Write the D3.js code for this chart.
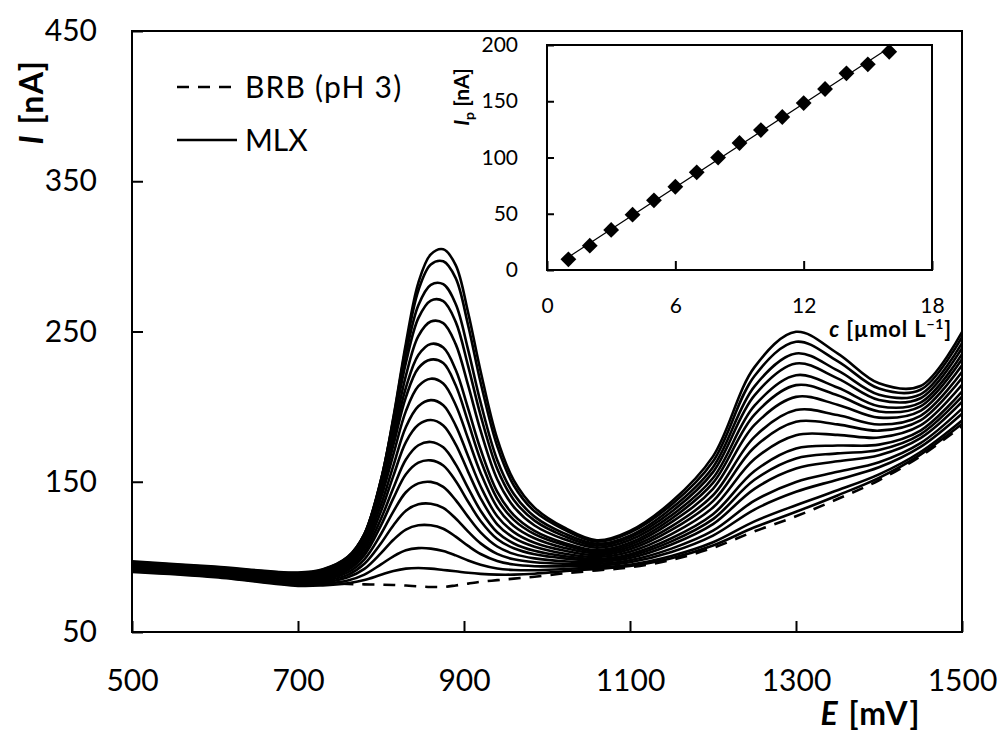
<!DOCTYPE html>
<html><head><meta charset="utf-8">
<script src="https://cdn.jsdelivr.net/npm/d3@7"></script>
<style>
body{margin:0;background:#fff}
svg{display:block}
text{font-family:Lato,'Open Sans',sans-serif;fill:#000}
</style>
</head><body>
<svg id="chart" width="1001" height="731"></svg>
<script>
// ---- data ----
const potentials = [500, 600, 700, 730, 760, 780, 800, 815, 830, 845, 860, 875, 890, 905, 920, 940, 960, 985, 1020, 1060, 1100, 1150, 1200, 1250, 1300, 1350, 1400, 1450, 1500];
const brb = [93, 89.5, 83.5, 82.5, 82, 81.7, 81.5, 81.3, 80.9, 80.4, 80, 80, 81, 82.2, 83.4, 84.5, 85.5, 86.8, 89, 91, 93, 98, 106, 117, 127, 138.5, 151, 167, 187];
const mlx01 = [90.0, 86.5, 80.7, 81.0, 82.5, 84.6, 88.1, 90.6, 92.2, 92.6, 92.2, 91.3, 90.4, 89.4, 88.7, 88.2, 88.2, 88.8, 90.4, 91.9, 93.9, 99.1, 107.6, 119.7, 130.0, 140.9, 152.6, 168.1, 188.5];
const mlx02 = [90.4, 86.9, 81.4, 82.0, 84.3, 88.2, 95.0, 100.4, 104.4, 105.8, 105.5, 103.9, 101.0, 97.6, 94.8, 92.3, 91.3, 91.1, 91.9, 93.0, 94.8, 100.6, 109.7, 123.6, 134.4, 144.3, 154.9, 169.8, 190.8];
const mlx03 = [90.9, 87.4, 82.1, 82.9, 86.4, 92.0, 102.5, 111.4, 118.2, 121.0, 121.0, 118.7, 113.5, 107.3, 101.9, 97.3, 94.9, 93.8, 93.7, 94.1, 96.4, 103.3, 114.2, 131.5, 143.3, 151.4, 159.6, 173.2, 195.3];
const mlx04 = [91.3, 87.8, 82.7, 83.9, 88.0, 95.4, 109.1, 121.1, 130.7, 135.0, 135.4, 132.6, 125.5, 116.8, 109.0, 102.0, 98.4, 96.4, 95.4, 95.3, 97.7, 105.5, 117.4, 137.4, 149.9, 156.6, 163.0, 175.7, 198.7];
const mlx05 = [91.8, 88.3, 83.4, 84.8, 89.7, 98.4, 115.2, 130.3, 143.0, 148.9, 149.9, 146.6, 137.8, 126.6, 116.3, 106.9, 102.0, 99.0, 97.1, 96.5, 99.2, 108.2, 121.8, 145.3, 158.8, 163.6, 167.7, 179.1, 203.2];
const mlx06 = [92.2, 88.7, 84.0, 85.5, 91.2, 101.2, 121.0, 139.1, 155.0, 162.7, 164.2, 160.8, 150.5, 136.7, 123.9, 111.9, 105.7, 101.7, 99.0, 97.7, 100.6, 110.3, 125.1, 151.3, 165.5, 168.9, 171.2, 181.6, 206.6];
const mlx07 = [92.6, 89.1, 84.5, 86.2, 92.3, 103.2, 125.4, 146.0, 164.8, 174.3, 176.5, 172.9, 161.6, 145.8, 130.7, 116.4, 108.9, 104.0, 100.5, 98.6, 101.8, 112.4, 128.4, 157.1, 172.1, 174.1, 174.7, 184.1, 210.0];
const mlx08 = [93.1, 89.6, 85.2, 87.0, 93.7, 105.6, 130.4, 154.1, 176.4, 187.9, 191.1, 187.5, 174.9, 156.6, 139.0, 121.7, 112.7, 106.8, 102.3, 99.9, 103.4, 115.1, 132.8, 165.1, 181.0, 181.2, 179.4, 187.5, 214.5];
const mlx09 = [93.5, 90.0, 85.7, 87.8, 94.9, 107.7, 134.7, 160.9, 186.4, 200.2, 204.3, 200.9, 187.4, 167.0, 147.0, 127.0, 116.5, 109.4, 104.2, 101.1, 105.0, 117.9, 137.1, 173.0, 189.9, 188.2, 184.0, 190.9, 219.1];
const mlx10 = [93.9, 90.4, 86.2, 88.4, 96.2, 109.8, 139.3, 168.4, 197.0, 213.6, 218.6, 215.4, 201.1, 178.6, 155.9, 133.0, 120.6, 112.4, 106.1, 102.4, 106.6, 120.3, 141.0, 179.9, 197.7, 194.4, 188.1, 193.9, 223.1];
const mlx11 = [94.4, 90.9, 86.9, 89.1, 97.2, 111.5, 143.0, 174.6, 206.3, 225.6, 231.3, 229.0, 214.2, 189.7, 164.5, 138.7, 124.6, 115.1, 108.0, 103.5, 108.0, 123.1, 145.3, 187.8, 206.5, 201.3, 192.7, 197.2, 227.5];
const mlx12 = [94.8, 91.3, 87.2, 89.6, 97.8, 112.4, 145.1, 178.5, 212.6, 234.3, 241.7, 239.3, 224.5, 198.7, 171.6, 143.4, 127.8, 117.3, 109.4, 104.5, 109.4, 125.4, 149.2, 194.7, 214.3, 207.5, 196.8, 200.2, 231.5];
const mlx13 = [95.3, 91.8, 87.9, 90.1, 98.4, 113.1, 146.9, 182.6, 220.6, 246.9, 256.6, 255.6, 241.6, 214.1, 184.0, 151.7, 133.3, 120.9, 111.9, 106.1, 111.2, 127.6, 152.5, 200.6, 220.9, 212.7, 200.3, 202.7, 234.9];
const mlx14 = [95.7, 92.2, 88.3, 90.7, 99.2, 114.5, 149.9, 187.9, 229.2, 258.9, 270.6, 270.2, 256.4, 227.0, 194.2, 158.7, 137.9, 124.1, 114.0, 107.5, 112.8, 130.0, 156.4, 207.5, 228.7, 218.8, 204.4, 205.6, 238.9];
const mlx15 = [96.1, 92.6, 88.8, 91.2, 99.7, 115.2, 151.4, 191.0, 234.9, 267.5, 281.1, 281.5, 268.3, 237.8, 202.8, 164.5, 141.8, 126.8, 115.8, 108.7, 114.1, 132.3, 159.7, 213.5, 235.4, 224.1, 207.9, 208.2, 242.3];
const mlx16 = [96.6, 93.1, 89.3, 91.5, 99.7, 115.0, 151.1, 192.3, 239.7, 277.3, 294.6, 296.7, 285.5, 254.1, 216.1, 173.7, 147.5, 130.3, 118.4, 110.1, 116.1, 134.7, 163.5, 220.4, 243.2, 230.3, 212.0, 211.2, 246.3];
const mlx17 = [97.0, 93.5, 89.6, 91.8, 100.1, 115.2, 150.9, 193.1, 242.1, 282.4, 301.3, 304.7, 294.2, 262.5, 223.6, 178.7, 150.9, 132.8, 119.7, 111.1, 117.3, 136.7, 166.9, 226.3, 249.8, 235.5, 215.5, 213.7, 249.6];
const mlxCurves = [mlx01, mlx02, mlx03, mlx04, mlx05, mlx06, mlx07, mlx08, mlx09, mlx10, mlx11, mlx12, mlx13, mlx14, mlx15, mlx16, mlx17];

const xTicks = [500, 700, 900, 1100, 1300, 1500];
const yTicks = [50, 150, 250, 350, 450];

const insetConc = [1, 2, 3, 4, 5, 6, 7, 8, 9, 10, 11, 12, 13, 14, 15, 16];
const insetIp = [9.5, 21.6, 35.6, 49.2, 61.9, 74, 86.8, 99.9, 112.9, 124.4, 136, 148.4, 160.9, 174.8, 182.8, 194];
const insetXTicks = [0, 6, 12, 18];
const insetYTicks = [0, 50, 100, 150, 200];

// ---- drawing ----
const svg = d3.select('#chart');
const x = d3.scaleLinear().domain([500, 1500]).range([132, 962]);
const y = d3.scaleLinear().domain([50, 450]).range([632, 31]);

svg.append('defs').append('clipPath').attr('id', 'plotClip')
  .append('rect').attr('x', x(500)).attr('y', y(450)).attr('width', x(1500) - x(500)).attr('height', y(50) - y(450));

const line = d3.line().x(d => x(d[0])).y(d => y(d[1])).curve(d3.curveCatmullRom.alpha(0.5));
const toPts = arr => potentials.map((e, i) => [e, arr[i]]);

const curves = svg.append('g').attr('clip-path', 'url(#plotClip)');
curves.append('path').attr('d', line(toPts(brb)))
  .attr('fill', 'none').attr('stroke', '#000').attr('stroke-width', 2.6).attr('stroke-dasharray', '12,9');
mlxCurves.forEach(c => {
  curves.append('path').attr('d', line(toPts(c)))
    .attr('fill', 'none').attr('stroke', '#000').attr('stroke-width', 2.6).attr('stroke-linejoin', 'round');
});

// axes
function styleAxis(g, fs) {
  g.select('.domain').remove();
  g.selectAll('line').attr('stroke', '#000').attr('stroke-width', 2);
  g.selectAll('text').style('font-size', fs + 'px').style('font-family', "Lato,'Open Sans',sans-serif").attr('fill', '#000');
}
svg.append('g').attr('transform', `translate(0,${y(50)})`)
  .call(d3.axisBottom(x).tickValues(xTicks).tickSizeInner(-11).tickSizeOuter(0).tickPadding(38).tickFormat(d3.format('d')))
  .call(g => styleAxis(g, 30));
svg.append('g').attr('transform', `translate(${x(500)},0)`)
  .call(d3.axisLeft(y).tickValues(yTicks).tickSizeInner(-11).tickSizeOuter(0).tickPadding(35).tickFormat(d3.format('d')))
  .call(g => styleAxis(g, 30));
svg.append('rect').attr('x', x(500)).attr('y', y(450)).attr('width', x(1500) - x(500)).attr('height', y(50) - y(450))
  .attr('fill', 'none').attr('stroke', '#000').attr('stroke-width', 2);

// axis titles
const yt = svg.append('text').attr('transform', 'translate(43,102) rotate(-90)').attr('text-anchor', 'middle')
  .style('font-size', '32px').style('font-weight', 'bold').style('letter-spacing', '1.5px');
yt.append('tspan').style('font-style', 'italic').text('I');
yt.append('tspan').text(' [nA]');
const xt = svg.append('text').attr('x', 921).attr('y', 725).attr('text-anchor', 'end')
  .style('font-size', '32px').style('font-weight', 'bold').style('letter-spacing', '1.5px');
xt.append('tspan').style('font-style', 'italic').text('E');
xt.append('tspan').text(' [mV]');

// legend
const legend = svg.append('g');
legend.append('line').attr('x1', 177).attr('x2', 236).attr('y1', 87).attr('y2', 87)
  .attr('stroke', '#000').attr('stroke-width', 2.6).attr('stroke-dasharray', '12,9');
legend.append('text').attr('x', 245).attr('y', 98).style('font-size', '30px').style('letter-spacing', '1.2px').text('BRB (pH 3)');
legend.append('line').attr('x1', 177).attr('x2', 237).attr('y1', 140).attr('y2', 140)
  .attr('stroke', '#000').attr('stroke-width', 2.6);
legend.append('text').attr('x', 245).attr('y', 151).style('font-size', '30px').text('MLX');

// inset
const xi = d3.scaleLinear().domain([0, 18]).range([547, 932]);
const yi = d3.scaleLinear().domain([0, 200]).range([270, 45]);
const inset = svg.append('g');
inset.append('g').attr('transform', `translate(0,${yi(0)})`)
  .call(d3.axisBottom(xi).tickValues(insetXTicks).tickSizeInner(-9).tickSizeOuter(0).tickPadding(28))
  .call(g => styleAxis(g, 21));
inset.append('g').attr('transform', `translate(${xi(0)},0)`)
  .call(d3.axisLeft(yi).tickValues(insetYTicks).tickSizeInner(-7).tickSizeOuter(0).tickPadding(29))
  .call(g => styleAxis(g, 21));
inset.append('rect').attr('x', xi(0)).attr('y', yi(200)).attr('width', xi(18) - xi(0)).attr('height', yi(0) - yi(200))
  .attr('fill', 'none').attr('stroke', '#000').attr('stroke-width', 2);

// least-squares fit line through the calibration points
const mx = d3.mean(insetConc), my = d3.mean(insetIp);
const slope = d3.sum(insetConc, (c, i) => (c - mx) * (insetIp[i] - my)) / d3.sum(insetConc, c => (c - mx) ** 2);
const icpt = my - slope * mx;
const cExt = d3.extent(insetConc);
inset.append('path').attr('d', d3.line().x(d => xi(d)).y(d => yi(icpt + slope * d))(cExt))
  .attr('stroke', '#000').attr('stroke-width', 1.2).attr('fill', 'none');
const diamond = d3.symbol().type(d3.symbolSquare).size(125);
inset.selectAll('path.pt').data(insetConc).enter().append('path').attr('class', 'pt')
  .attr('d', diamond)
  .attr('transform', (c, i) => `translate(${xi(c)},${yi(insetIp[i])}) rotate(45)`)
  .attr('fill', '#000');

const it = inset.append('text').attr('transform', 'translate(469,97) rotate(-90)').attr('text-anchor', 'middle')
  .style('font-size', '21px').style('font-weight', 'bold');
it.append('tspan').style('font-style', 'italic').text('I');
it.append('tspan').style('font-size', '14px').attr('dy', 5).text('p');
it.append('tspan').attr('dy', -5).text(' [nA]');

const ct = inset.append('text').attr('x', 952).attr('y', 337).attr('text-anchor', 'end')
  .style('font-size', '22px').style('font-weight', 'bold').style('letter-spacing', '0.8px');
ct.append('tspan').style('font-style', 'italic').text('c');
ct.append('tspan').text(' [µmol L');
ct.append('tspan').style('font-size', '14px').attr('dy', -8).text('−1');
ct.append('tspan').attr('dy', 8).text(']');
</script>
</body></html>
